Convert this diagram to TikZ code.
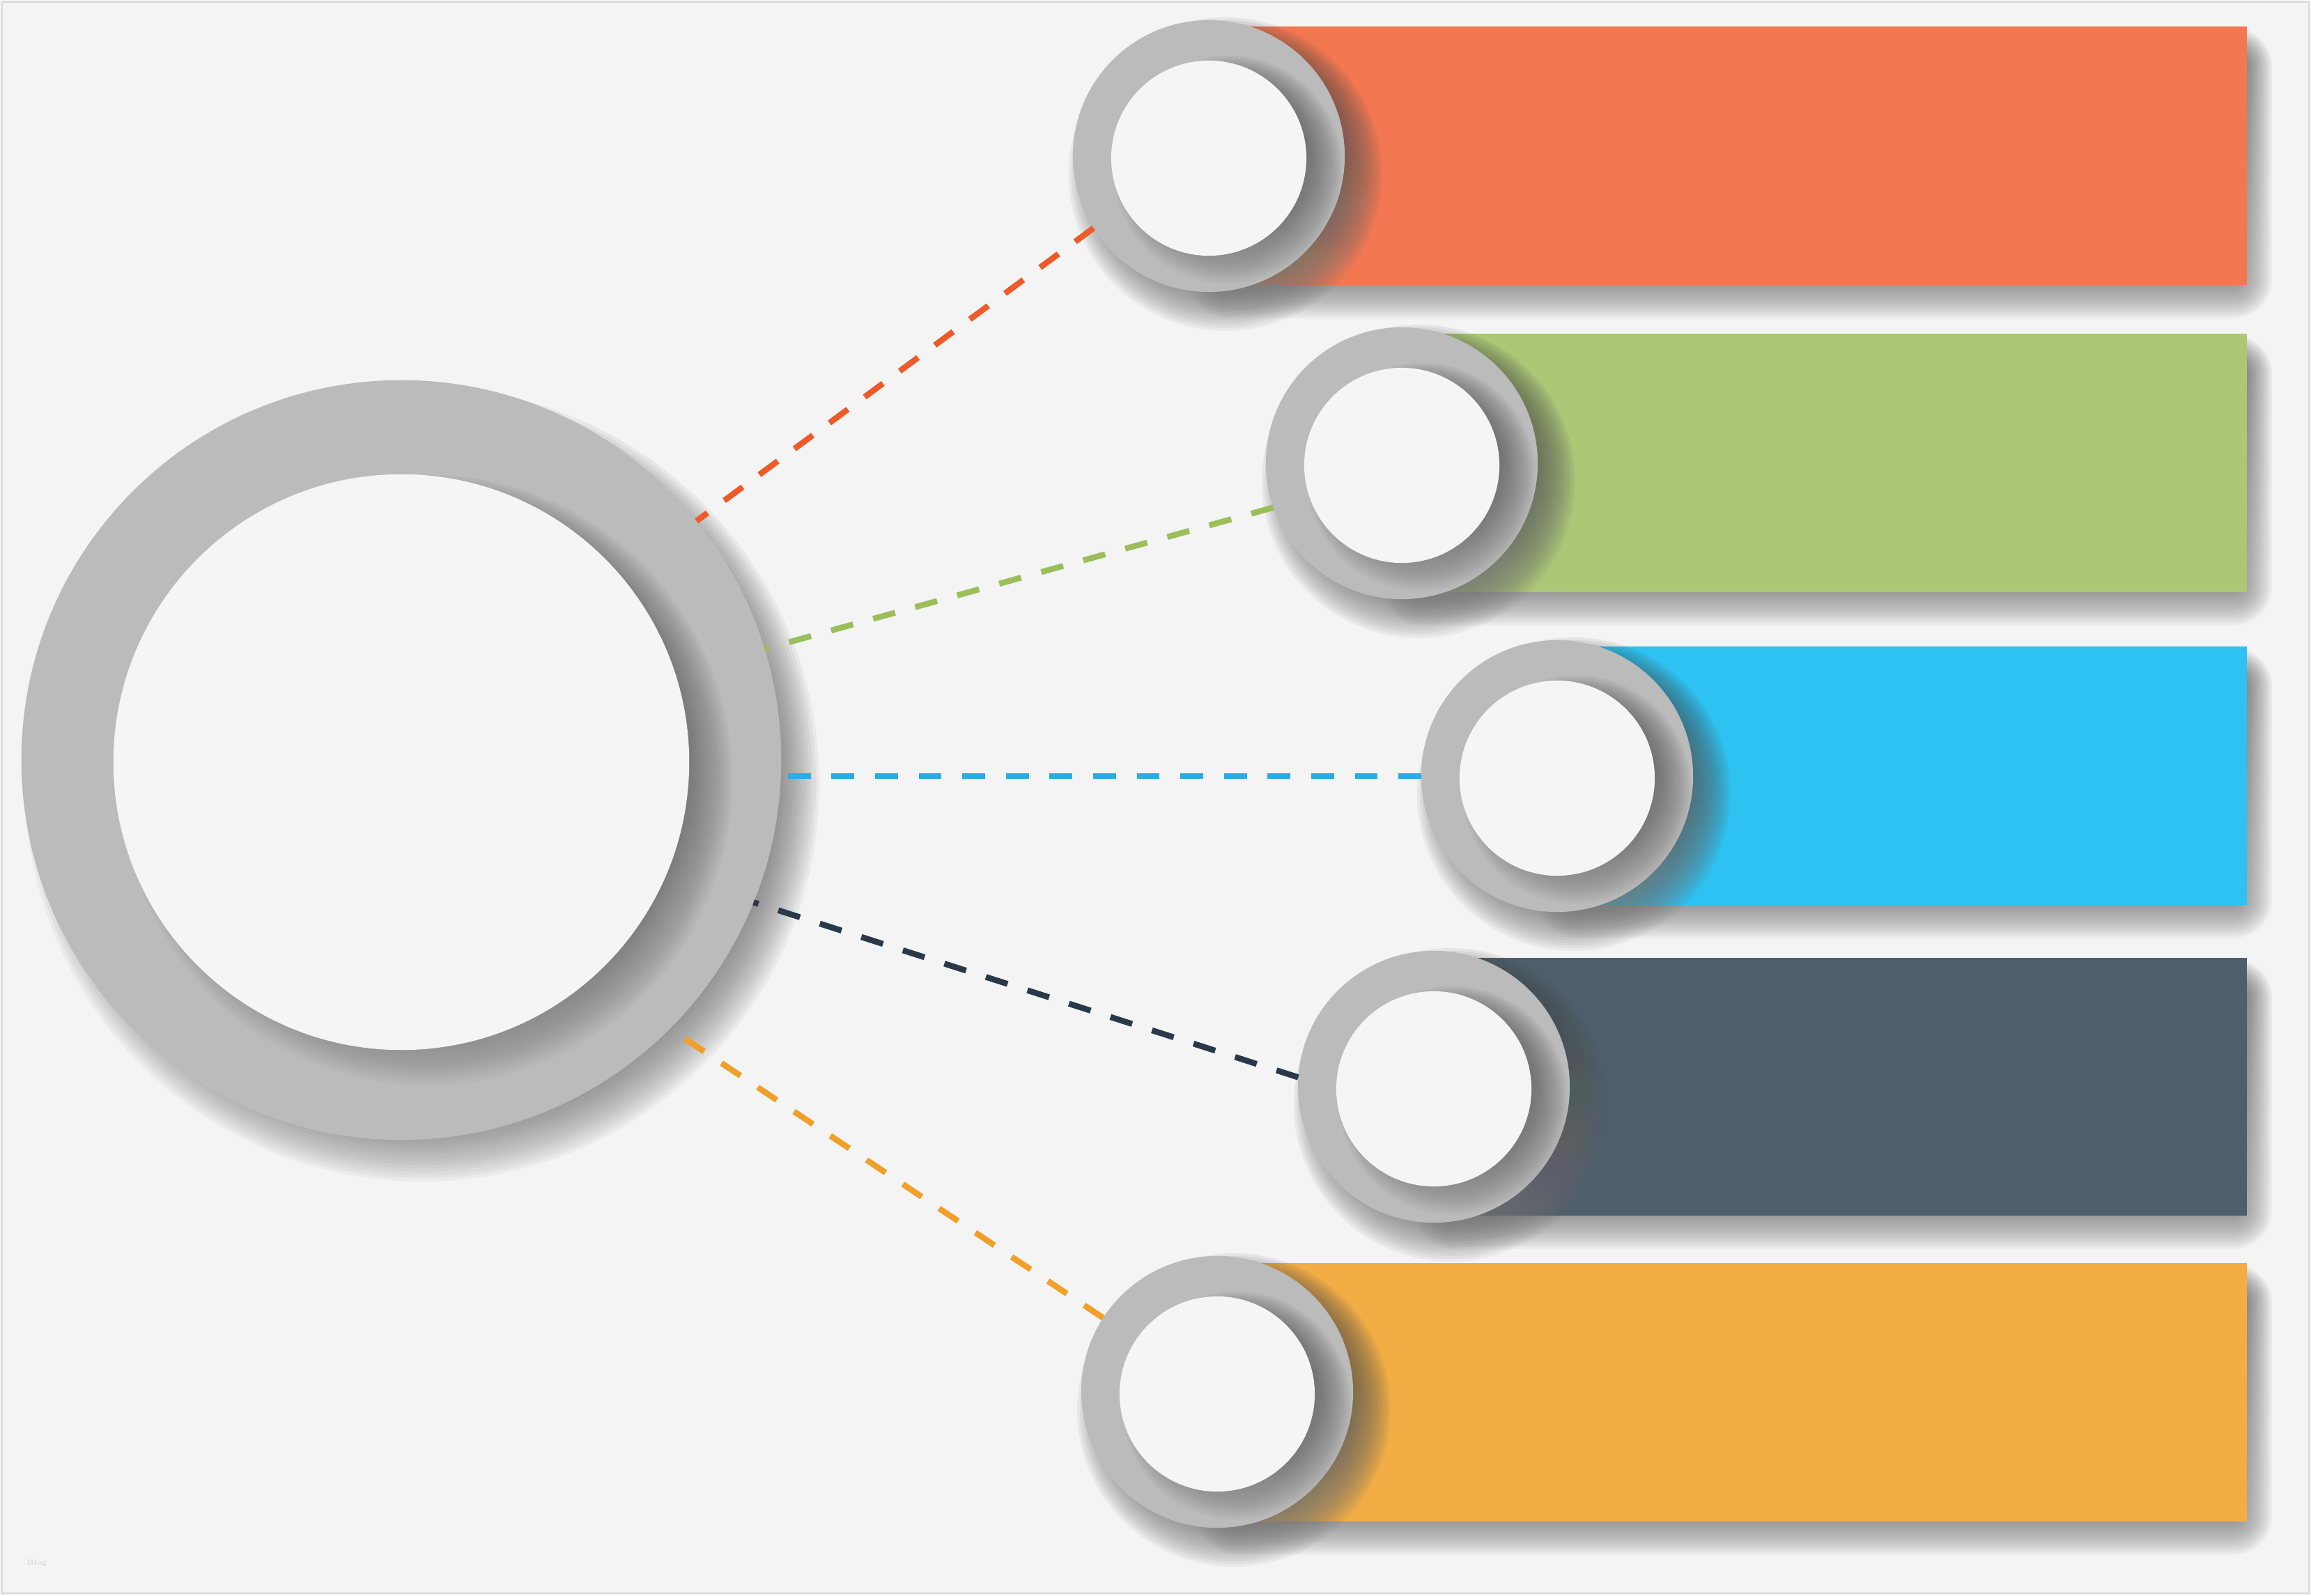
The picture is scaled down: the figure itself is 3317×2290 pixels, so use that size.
\documentclass[tikz,border=0pt]{standalone}
\usepackage{xcolor}
\definecolor{bg}{HTML}{F4F4F4}
\definecolor{framec}{HTML}{D9D9D9}
\definecolor{ringc}{HTML}{BBBBBB}
\definecolor{discc}{HTML}{F5F5F5}
\definecolor{barA}{HTML}{F37852}
\definecolor{barB}{HTML}{ADC777}
\definecolor{barC}{HTML}{2DC2F1}
\definecolor{barD}{HTML}{4F5E6B}
\definecolor{barE}{HTML}{F2AE45}
\definecolor{lnA}{HTML}{EE5A28}
\definecolor{lnB}{HTML}{9CBE5A}
\definecolor{lnC}{HTML}{29ACE3}
\definecolor{lnD}{HTML}{2A394A}
\definecolor{lnE}{HTML}{F0A029}
\definecolor{shade}{HTML}{2A2F34}

% soft circular shadow: cx, cy, radius, blur, steps, alpha
\newcommand{\softcirc}[6]{%
  \foreach \k in {1,...,#5}{%
    \fill[shade, opacity=#6] ({#1},{#2}) circle ({(#3)-(#4)/2+(\k-1)*(#4)/(#5-1)});
  }}
% soft rectangular shadow: x1, y1, x2, y2, blur, steps, alpha
\newcommand{\softrect}[7]{%
  \foreach \k in {1,...,#6}{%
    \pgfmathsetmacro{\ee}{-(#5)/2+(\k-1)*(#5)/(#6-1)}%
    \pgfmathsetmacro{\rc}{((#5)/2+\ee)*0.2845+0.01}%
    \fill[shade, opacity=#7, rounded corners=\rc pt] ({(#1)-(\ee)},{(#2)-(\ee)}) rectangle ({(#3)+(\ee)},{(#4)+(\ee)});
  }}

\tikzset{
  ringnode/.style={circle, fill=ringc, inner sep=0pt, outer sep=0pt, minimum size=3.9cm},
  discnode/.style={circle, fill=discc, inner sep=0pt, outer sep=0pt, minimum size=2.8cm},
  link/.style={line width=2.4pt, dash pattern=on 9.3pt off 8.5pt},
}

% one coloured bar with its ring: name, cx, cy, top, bottom, colour
\newcommand{\infobar}[6]{%
  \softrect{(#2)}{(#4)+30}{3225+8}{(#5)+20}{56}{20}{0.03}
  \fill[#6] (#2,#4) rectangle (3225,#5);
  \softcirc{(#2)+24}{(#3)+26}{180}{90}{24}{0.045}
  \node[ringnode] (#1) at (#2,#3) {};
  \begin{scope}
    \clip (#2,#3) circle (195);
    \softcirc{(#2)+28}{(#3)+20}{134}{60}{20}{0.03}
  \end{scope}
  \node[discnode] (#1in) at (#2,#3+3) {};
}

\begin{document}
\begin{tikzpicture}[x=0.01cm, y=-0.01cm]
\useasboundingbox (0,0) rectangle (3317,2290);
\fill[bg] (0,0) rectangle (3317,2290);
\draw[framec, line width=0.8pt] (3,3) rectangle (3314,2287);

% big circle
\softcirc{606}{1126}{525}{90}{20}{0.036}
\node[circle, fill=ringc, minimum size=10.9cm, inner sep=0pt, outer sep=0pt] (big) at (576,1091) {};
\begin{scope}
  \clip (576,1091) circle (545);
  \softcirc{613}{1120}{396}{84}{20}{0.03}
\end{scope}
\node[circle, fill=discc, minimum size=8.26cm, inner sep=0pt, outer sep=0pt] (bigin) at (576,1094) {};

% bars
\infobar{c1}{1735}{224}{38}{409}{barA}
\infobar{c2}{2012}{665}{479}{850}{barB}
\infobar{c3}{2235}{1114}{928}{1299}{barC}
\infobar{c4}{2058}{1560}{1375}{1745}{barD}
\infobar{c5}{1747}{1998}{1813}{2184}{barE}

% connectors
\draw[link, lnA] (c1.212) -- (big.39.2);
\draw[link, lnB] (c2.199.8) -- (big.17);
\draw[link, lnC] (c3.west) -- (c3.west -| big.east);
\draw[link, lnD] (c4.176) -- (big.-22.3);
\draw[link, lnE] (c5.147) -- (big.-45.6);

\node[text=black!20, font=\fontsize{3}{3}\selectfont, anchor=west, inner sep=0pt] (wm) at (38,2244) {Blog};
\end{tikzpicture}
\end{document}
